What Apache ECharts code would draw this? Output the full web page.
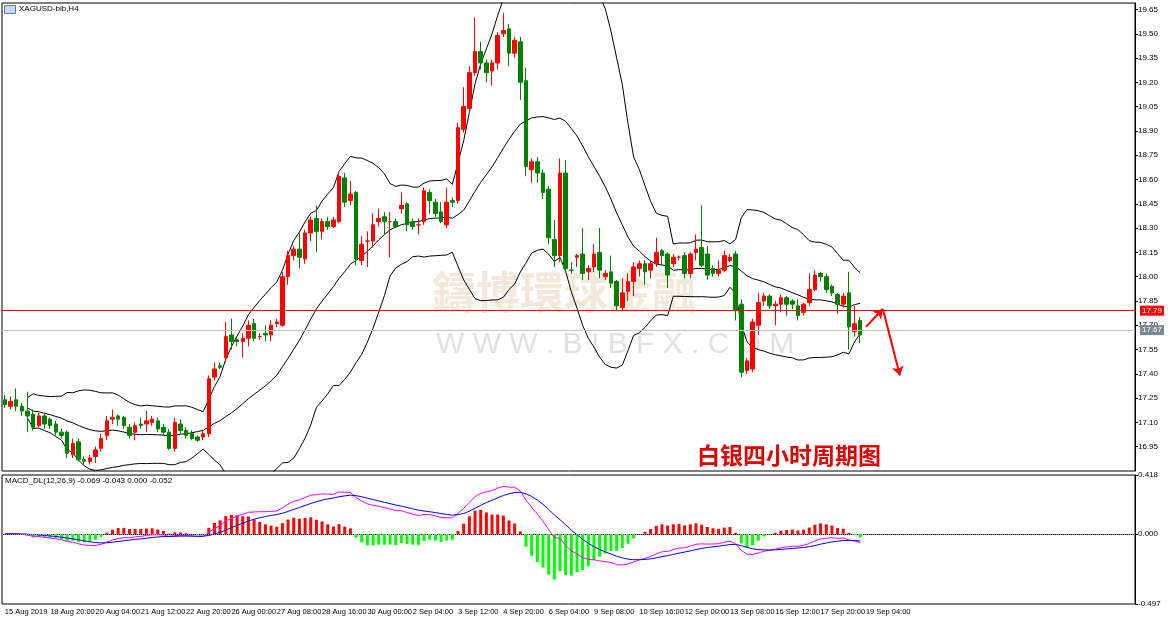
<!DOCTYPE html>
<html lang="en">
<head>
<meta charset="UTF-8" />
<script src="https://cdn.jsdelivr.net/npm/echarts@6/dist/echarts.min.js"></script>
<style>
  html, body { margin: 0; padding: 0; background: #fff; }
  #main { width: 1170px; height: 625px; }
</style>
</head>
<body>
<div id="main"></div>
<script>
// XAGUSD H4, 152 bars (15 Aug 2019 .. 19 Sep 2019)
var opens = [17.24,17.20,17.24,17.20,17.17,17.15,17.08,17.14,17.12,17.09,17.04,17.04,16.90,16.98,16.87,16.86,16.89,16.94,17.02,17.12,
  17.14,17.13,17.07,17.04,17.09,17.09,17.10,17.11,17.07,17.04,16.94,17.09,17.05,17.03,17.01,17.01,17.03,17.38,17.45,17.50,
  17.64,17.61,17.60,17.62,17.71,17.63,17.65,17.64,17.71,17.70,18.00,18.13,18.17,18.11,18.27,18.36,18.28,18.34,18.31,18.34,
  18.61,18.47,18.52,18.10,18.22,18.22,18.34,18.37,18.34,18.34,18.42,18.45,18.34,18.32,18.34,18.52,18.46,18.40,18.32,18.47,
  18.47,18.91,19.04,19.26,19.39,19.32,19.27,19.32,19.50,19.53,19.38,19.45,19.21,18.66,18.71,18.64,18.54,18.23,18.13,18.64,
  18.04,18.12,18.14,18.03,18.06,18.15,18.00,18.03,17.97,17.81,17.91,17.97,18.05,18.08,18.04,18.08,18.16,18.14,18.08,18.12,
  18.13,18.02,18.15,18.18,18.14,18.05,18.02,18.04,18.10,18.14,17.83,17.42,17.43,17.70,17.85,17.88,17.82,17.83,17.87,17.85,
  17.82,17.78,17.84,17.92,18.02,18.00,17.94,17.89,17.83,17.90,17.66,17.73];
var closes = [17.21,17.23,17.20,17.17,17.14,17.07,17.14,17.09,17.08,17.04,17.02,16.91,16.97,16.87,16.86,16.88,16.93,17.00,17.11,17.13,
  17.12,17.08,17.02,17.08,17.08,17.11,17.12,17.06,17.04,16.94,17.10,17.05,17.02,17.00,16.99,17.03,17.37,17.43,17.44,17.63,
  17.60,17.60,17.62,17.70,17.62,17.63,17.64,17.70,17.72,18.00,18.13,18.17,18.12,18.27,18.35,18.28,18.34,18.31,18.35,18.62,
  18.46,18.51,18.11,18.20,18.22,18.32,18.36,18.34,18.34,18.31,18.44,18.32,18.31,18.32,18.53,18.47,18.39,18.34,18.46,18.46,
  18.92,19.05,19.26,19.39,19.32,19.26,19.32,19.49,19.52,19.38,19.46,19.20,18.68,18.71,18.64,18.52,18.24,18.13,18.64,18.05,
  18.04,18.13,18.02,18.05,18.14,18.04,18.02,17.96,17.82,17.90,17.97,18.06,18.08,18.03,18.08,18.15,18.13,18.01,18.12,18.12,
  18.02,18.14,18.17,18.07,18.01,18.02,18.04,18.13,18.12,17.79,17.41,17.48,17.72,17.84,17.88,17.82,17.83,17.87,17.83,17.83,
  17.76,17.83,17.92,18.01,18.00,17.92,17.90,17.83,17.88,17.69,17.71,17.64];
var lows = [17.19,17.18,17.17,17.14,17.04,17.05,17.07,17.06,17.06,17.02,17.00,16.88,16.88,16.86,16.84,16.84,16.85,16.92,16.99,17.09,
  17.08,17.06,17.00,16.99,17.06,17.04,17.08,17.04,17.02,16.93,16.92,17.03,17.00,16.99,16.98,16.99,17.01,17.36,17.43,17.47,
  17.55,17.57,17.50,17.57,17.60,17.61,17.60,17.60,17.69,17.69,17.95,18.10,18.05,18.08,18.22,18.15,18.23,18.29,18.30,18.33,
  18.43,18.44,18.07,18.07,18.06,18.18,18.31,18.26,18.12,18.30,18.39,18.28,18.29,18.26,18.32,18.39,18.37,18.33,18.30,18.43,
  18.45,18.89,19.02,19.24,19.28,19.20,19.18,19.28,19.48,19.30,19.35,19.09,18.62,18.58,18.58,18.48,18.20,18.06,18.09,18.03,
  18.02,18.06,17.98,17.98,18.03,17.99,17.98,17.93,17.79,17.79,17.85,17.88,18.00,17.95,17.99,18.06,18.07,17.93,18.06,18.10,
  17.99,17.99,18.10,18.06,17.98,18.00,18.00,18.03,18.09,17.73,17.38,17.40,17.41,17.64,17.82,17.80,17.70,17.78,17.76,17.80,
  17.73,17.76,17.82,17.91,17.97,17.90,17.88,17.77,17.81,17.55,17.63,17.59];
var highs = [17.27,17.26,17.31,17.22,17.29,17.18,17.16,17.16,17.13,17.11,17.06,17.05,17.00,17.00,16.89,16.90,16.95,17.03,17.14,17.18,
  17.15,17.14,17.09,17.10,17.13,17.17,17.14,17.13,17.09,17.06,17.13,17.12,17.07,17.05,17.02,17.05,17.39,17.47,17.47,17.72,
  17.74,17.63,17.65,17.73,17.74,17.65,17.70,17.73,17.74,18.03,18.16,18.19,18.27,18.29,18.37,18.44,18.36,18.37,18.37,18.64,
  18.64,18.59,18.53,18.25,18.28,18.39,18.42,18.40,18.40,18.36,18.52,18.46,18.36,18.36,18.55,18.54,18.48,18.46,18.55,18.49,
  18.95,19.17,19.30,19.60,19.45,19.34,19.34,19.51,19.63,19.56,19.48,19.48,19.29,18.73,18.74,18.66,18.56,18.35,18.73,18.72,
  18.09,18.14,18.30,18.07,18.20,18.30,18.04,18.13,17.98,17.99,18.02,18.09,18.10,18.10,18.10,18.24,18.17,18.15,18.14,18.13,
  18.15,18.15,18.26,18.44,18.19,18.07,18.10,18.16,18.14,18.16,17.86,17.50,17.74,17.90,17.90,17.89,17.85,17.89,17.88,17.86,
  17.86,17.84,18.02,18.04,18.03,18.02,17.95,17.90,17.90,18.03,17.82,17.75];

// bottom axis labels, one every 8 bars
var tickLabels = ['15 Aug 2019','18 Aug 20:00','20 Aug 04:00','21 Aug 12:00','22 Aug 20:00','26 Aug 00:00','27 Aug 08:00',
  '28 Aug 16:00','30 Aug 00:00','2 Sep 04:00','3 Sep 12:00','4 Sep 20:00','6 Sep 04:00','9 Sep 08:00','10 Sep 16:00',
  '12 Sep 00:00','13 Sep 08:00','16 Sep 12:00','17 Sep 20:00','19 Sep 04:00'];

var priceTicks = { min: 16.80, max: 19.69, step: 0.15 };
var bidLine = 17.79, lastLine = 17.67;
var macdRange = [-0.497, 0.418];

var TOTAL = 200;
var cats = [];
for (var i = 0; i < TOTAL; i++) {
  cats.push(i % 8 === 0 && tickLabels[i / 8] ? tickLabels[i / 8] : ' ' + i);
}
function isTick(i) { return i % 8 === 0 && i <= 152; }

var kdata = opens.map(function (o, i) { return [o, closes[i], lows[i], highs[i]]; });

// Bollinger(20, 2)
var bbMid = [], bbUp = [], bbLo = [];
closes.forEach(function (c, i) {
  if (i < 4) { bbMid.push(null); bbUp.push(null); bbLo.push(null); return; }
  var w = closes.slice(Math.max(0, i - 19), i + 1);
  var m = w.reduce(function (a, b) { return a + b; }, 0) / w.length;
  var sd = Math.sqrt(w.reduce(function (a, b) { return a + (b - m) * (b - m); }, 0) / w.length);
  bbMid.push(+m.toFixed(4)); bbUp.push(+(m + 2 * sd).toFixed(4)); bbLo.push(+(m - 2 * sd).toFixed(4));
});

// MACD(12,26,9), hist = 2*(dif-dea)
function ema(arr, n) {
  var k = 2 / (n + 1), out = [], prev = arr[0];
  arr.forEach(function (v) { prev = v * k + prev * (1 - k); out.push(prev); });
  return out;
}
var e12 = ema(closes, 12), e26 = ema(closes, 26);
var dif = e12.map(function (v, i) { return v - e26[i]; });
var dea = ema(dif, 9);
var histUp = [], histDn = [];
dif.forEach(function (d, i) {
  var h = 2 * (d - dea[i]);
  histUp.push(h >= 0 ? +h.toFixed(4) : '-');
  histDn.push(h < 0 ? +h.toFixed(4) : '-');
});

var F = 'Liberation Sans';
var arrowStyle = { color: '#ff0000', width: 2, type: 'solid' };
var chart = echarts.init(document.getElementById('main'));
chart.setOption({
  animation: false,
  backgroundColor: '#fff',
  textStyle: { fontFamily: F },
  grid: [
    { left: 2, right: 35, top: 3, height: 468, show: true, borderColor: '#000', borderWidth: 1 },
    { left: 2, right: 35, top: 475, height: 129, show: true, borderColor: '#000', borderWidth: 1 }
  ],
  xAxis: [
    { type: 'category', gridIndex: 0, data: cats, boundaryGap: true,
      axisLine: { show: false }, axisTick: { show: false }, axisLabel: { show: false }, splitLine: { show: false } },
    { type: 'category', gridIndex: 1, data: cats, boundaryGap: true,
      axisLine: { lineStyle: { color: '#000' } },
      axisTick: { interval: isTick, length: 3, lineStyle: { color: '#000' } },
      axisLabel: { interval: isTick, showMinLabel: true, hideOverlap: false, align: 'left', fontSize: 7.5, color: '#000', margin: 4 },
      splitLine: { show: false } }
  ],
  yAxis: [
    { type: 'value', gridIndex: 0, position: 'right', min: priceTicks.min, max: priceTicks.max, interval: priceTicks.step,
      axisLine: { show: true, lineStyle: { color: '#000' } }, axisTick: { show: true, length: 3, lineStyle: { color: '#000' } },
      splitLine: { show: false }, axisLabel: { showMinLabel: false, showMaxLabel: false, fontSize: 8, color: '#000', margin: 3,
        formatter: function (v) { return v.toFixed(2); } } },
    { type: 'value', gridIndex: 1, position: 'right', min: macdRange[0], max: macdRange[1],
      axisLine: { show: true, lineStyle: { color: '#000' } },
      axisTick: { show: true, length: 3, customValues: [macdRange[0], 0, macdRange[1]], lineStyle: { color: '#000' } },
      splitLine: { show: false },
      axisLabel: { fontSize: 8, color: '#000', margin: 3, customValues: [macdRange[0], 0, macdRange[1]],
        formatter: function (v) { return v.toFixed(3); } } }
  ],
  graphic: [
    { type: 'rect', left: 4, top: 5, shape: { width: 11, height: 8 }, style: { fill: '#c8d8f0', stroke: '#5a7ab0' } },
    { type: 'text', left: 19, top: 5, style: { text: 'XAGUSD-bib,H4', font: '8px Liberation Sans', fill: '#000' } },
    { type: 'text', left: 5, top: 477, style: { text: 'MACD_DL(12,26,9) -0.069 -0.043 0.000 -0.052', font: '8px Liberation Sans', fill: '#000' } },
    { type: 'text', left: 432, top: 270, z: 0, style: { text: '鑄博環球金融', font: 'bold 44px "Noto Sans CJK TC"', fill: 'rgba(222,190,150,0.35)' } },
    { type: 'text', left: 436, top: 330, z: 0, style: { text: 'W W W . B I B F X . C O M', font: '30px Liberation Sans', fill: 'rgba(170,170,170,0.35)' } },
    { type: 'text', left: 697, top: 444, style: { text: '白银四小时周期图', font: 'bold 23px "Noto Sans CJK SC"', fill: '#e00000' } }
  ],
  series: [
    { name: 'k', type: 'candlestick', xAxisIndex: 0, yAxisIndex: 0, data: kdata, barWidth: 4, z: 3,
      itemStyle: { color: '#ff0000', color0: '#008000', borderColor: '#ff0000', borderColor0: '#008000', borderWidth: 1 },
      markLine: { silent: true, symbol: 'none',
        data: [
          { yAxis: bidLine, lineStyle: { color: '#ff0000', width: 1, type: 'solid' },
            label: { position: 'end', formatter: bidLine.toFixed(2), backgroundColor: '#ff0000', color: '#fff', fontSize: 8, padding: [1, 2] } },
          { yAxis: lastLine, lineStyle: { color: '#c0c0c0', width: 1, type: 'solid' },
            label: { position: 'end', formatter: lastLine.toFixed(2), backgroundColor: '#778899', color: '#fff', fontSize: 8, padding: [1, 2] } }
        ] } },
    { type: 'line', xAxisIndex: 0, yAxisIndex: 0, data: [], showSymbol: false,
      markLine: { silent: true, symbol: ['none', 'arrow'], symbolSize: 9, label: { show: false }, lineStyle: arrowStyle,
        data: [
          [ { coord: [152, 17.69] }, { coord: [154.5, 17.80] } ],
          [ { coord: [154.5, 17.80] }, { coord: [158, 17.39] } ]
        ] } },
    { type: 'line', xAxisIndex: 0, yAxisIndex: 0, data: bbMid, showSymbol: false, lineStyle: { color: '#000', width: 1 }, z: 2 },
    { type: 'line', xAxisIndex: 0, yAxisIndex: 0, data: bbUp, showSymbol: false, lineStyle: { color: '#000', width: 1 }, z: 2 },
    { type: 'line', xAxisIndex: 0, yAxisIndex: 0, data: bbLo, showSymbol: false, lineStyle: { color: '#000', width: 1 }, z: 2 },
    { type: 'bar', xAxisIndex: 1, yAxisIndex: 1, data: histUp, barWidth: 3, stack: 'h', itemStyle: { color: '#ff0000' },
      markLine: { silent: true, symbol: 'none', label: { show: false }, data: [{ yAxis: 0 }], lineStyle: { color: '#a0a0a0', type: 'dotted', width: 1 } } },
    { type: 'bar', xAxisIndex: 1, yAxisIndex: 1, data: histDn, barWidth: 3, stack: 'h', itemStyle: { color: '#00ff00' } },
    { type: 'line', xAxisIndex: 1, yAxisIndex: 1, data: dif.map(function (v) { return +v.toFixed(4); }), showSymbol: false, lineStyle: { color: '#ff00ff', width: 1 } },
    { type: 'line', xAxisIndex: 1, yAxisIndex: 1, data: dea.map(function (v) { return +v.toFixed(4); }), showSymbol: false, lineStyle: { color: '#0000ff', width: 1 } }
  ]
});
</script>
</body>
</html>
